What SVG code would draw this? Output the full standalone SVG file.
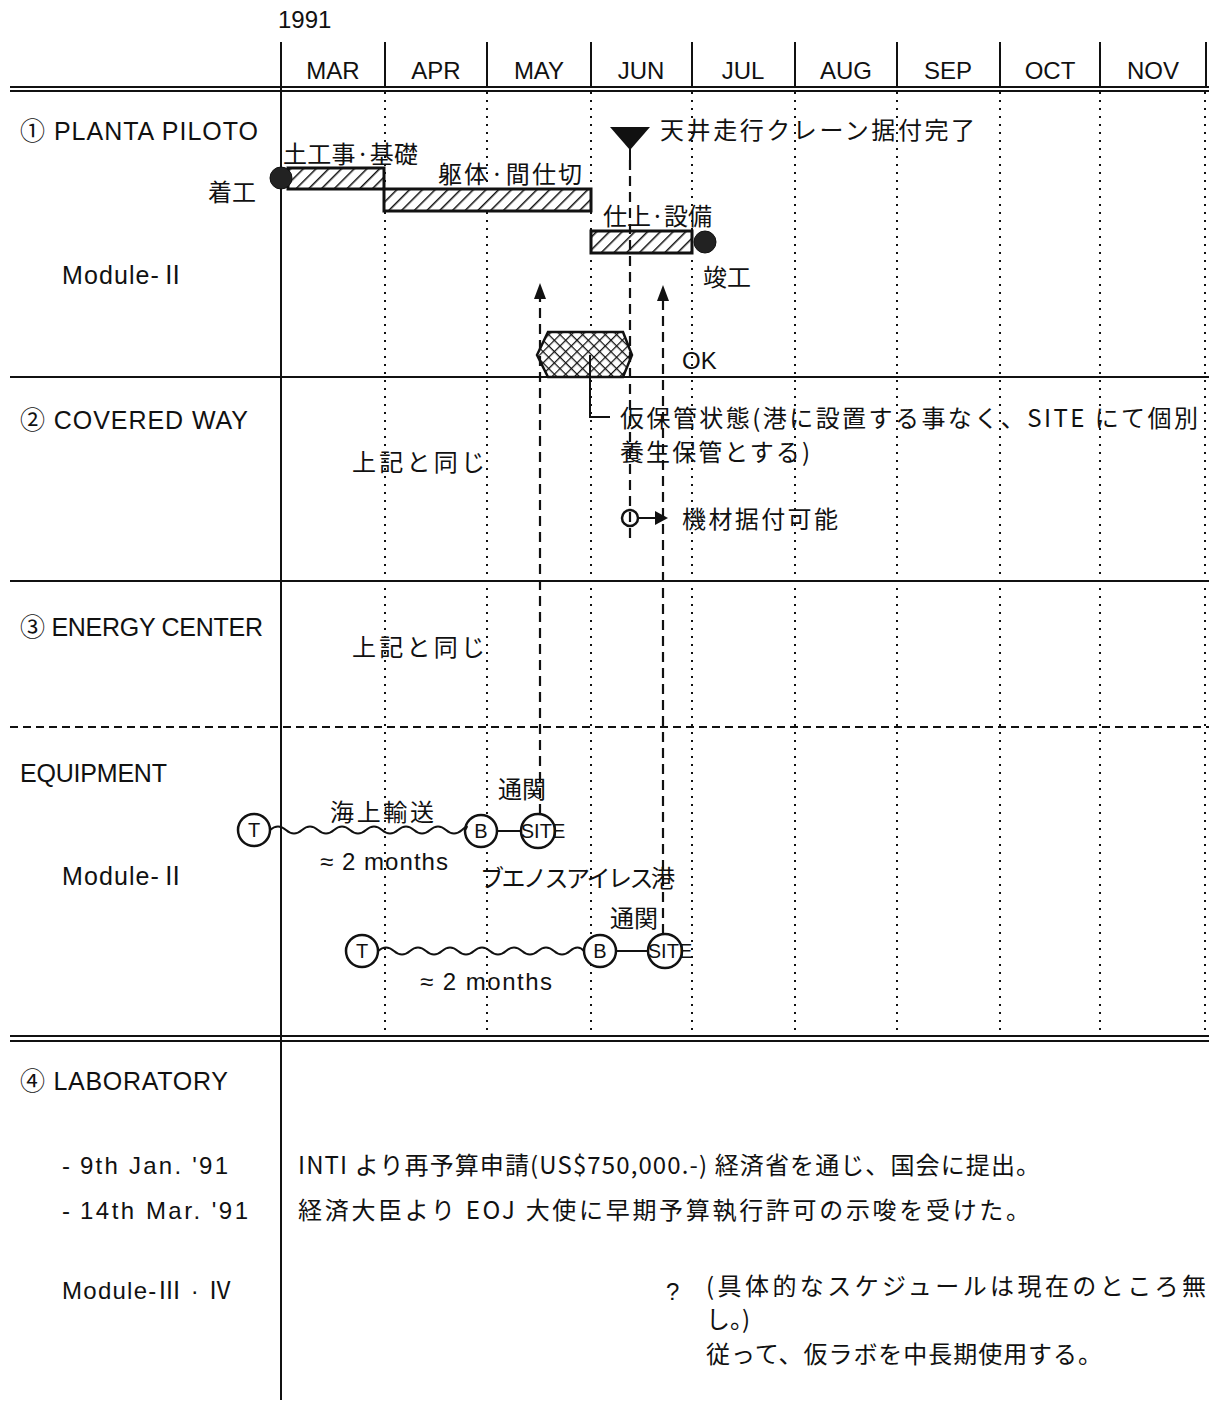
<svg xmlns="http://www.w3.org/2000/svg" width="1209" height="1403" viewBox="0 0 1209 1403">
<defs>
<style>
.t{font-family:"Liberation Sans","Noto Sans CJK JP",sans-serif;font-size:24px;fill:#111}
.l{font-family:"Liberation Sans","Noto Sans CJK JP",sans-serif;font-size:25px;fill:#111}
.j{font-family:"Noto Sans CJK JP","Liberation Sans",sans-serif;font-size:24px;fill:#111}
.s{font-family:"Liberation Sans",sans-serif;font-size:20px;fill:#111}
.m{font-family:"Liberation Sans",sans-serif;font-size:24px;fill:#111;text-anchor:middle}
.grid{stroke:#111;stroke-width:2;stroke-dasharray:2 6;fill:none}
.solid{stroke:#111;stroke-width:2;fill:none}
.dash{stroke:#111;stroke-width:2.2;stroke-dasharray:10 6;fill:none}
.bar{fill:url(#hatch);stroke:#111;stroke-width:3}
.circ{fill:#fff;stroke:#111;stroke-width:2.5}
.dot{fill:#222;stroke:#111;stroke-width:1}
.head{fill:#111}
</style>
<pattern id="hatch" width="9" height="9" patternUnits="userSpaceOnUse" patternTransform="rotate(45)">
<rect width="9" height="9" fill="#fff"/>
<line x1="0" y1="0" x2="0" y2="9" stroke="#111" stroke-width="3"/>
</pattern>
<pattern id="cross" width="8" height="8" patternUnits="userSpaceOnUse" patternTransform="rotate(45)">
<rect width="8" height="8" fill="#fff"/>
<line x1="0" y1="0" x2="0" y2="8" stroke="#111" stroke-width="2.5"/>
<line x1="0" y1="0" x2="8" y2="0" stroke="#111" stroke-width="2.5"/>
</pattern>
</defs>

<g id="header">
<text class="t" x="278" y="28" font-size="21">1991</text>
<line class="solid" x1="281" y1="42" x2="281" y2="1400"/>
<g class="solid">
<line x1="385" y1="42" x2="385" y2="86"/>
<line x1="487" y1="42" x2="487" y2="86"/>
<line x1="591" y1="42" x2="591" y2="86"/>
<line x1="692" y1="42" x2="692" y2="86"/>
<line x1="795" y1="42" x2="795" y2="86"/>
<line x1="897" y1="42" x2="897" y2="86"/>
<line x1="1000" y1="42" x2="1000" y2="86"/>
<line x1="1100" y1="42" x2="1100" y2="86"/>
<line x1="1206" y1="42" x2="1206" y2="86"/>
</g>
<text class="m" x="333" y="79">MAR</text>
<text class="m" x="436" y="79">APR</text>
<text class="m" x="539" y="79">MAY</text>
<text class="m" x="641" y="79">JUN</text>
<text class="m" x="743" y="79">JUL</text>
<text class="m" x="846" y="79">AUG</text>
<text class="m" x="948" y="79">SEP</text>
<text class="m" x="1050" y="79">OCT</text>
<text class="m" x="1153" y="79">NOV</text>
</g>

<g id="gridlines">
<line class="solid" x1="10" y1="87" x2="1209" y2="87" stroke-width="1.5"/>
<line class="solid" x1="10" y1="91" x2="1209" y2="91" stroke-width="1.5"/>
<g class="grid">
<line x1="385" y1="92" x2="385" y2="1036"/>
<line x1="487" y1="92" x2="487" y2="1036"/>
<line x1="591" y1="92" x2="591" y2="1036"/>
<line x1="692" y1="92" x2="692" y2="1036"/>
<line x1="795" y1="92" x2="795" y2="1036"/>
<line x1="897" y1="92" x2="897" y2="1036"/>
<line x1="1000" y1="92" x2="1000" y2="1036"/>
<line x1="1100" y1="92" x2="1100" y2="1036"/>
<line x1="1205" y1="92" x2="1205" y2="1036"/>
</g>
<line class="solid" x1="10" y1="377" x2="1209" y2="377"/>
<line class="solid" x1="10" y1="581" x2="1209" y2="581"/>
<line x1="10" y1="727" x2="1209" y2="727" stroke="#111" stroke-width="2" stroke-dasharray="8 5"/>
<line class="solid" x1="10" y1="1036" x2="1209" y2="1036" stroke-width="1.5"/>
<line class="solid" x1="10" y1="1041" x2="1209" y2="1041" stroke-width="1.5"/>
</g>

<g id="labels">
<text class="l" x="20" y="140" textLength="238" lengthAdjust="spacing">① PLANTA PILOTO</text>
<text class="l" x="62" y="284" textLength="123" lengthAdjust="spacing">Module-Ⅱ</text>
<text class="l" x="20" y="429" textLength="228" lengthAdjust="spacing">② COVERED WAY</text>
<text class="l" x="20" y="636" textLength="243" lengthAdjust="spacing">③ ENERGY CENTER</text>
<text class="l" x="20" y="782" textLength="147" lengthAdjust="spacing">EQUIPMENT</text>
<text class="l" x="62" y="885" textLength="123" lengthAdjust="spacing">Module-Ⅱ</text>
<text class="l" x="20" y="1090" textLength="208" lengthAdjust="spacing">④ LABORATORY</text>
<text class="t" x="62" y="1174">-</text>
<text class="t" x="80" y="1174" textLength="148" lengthAdjust="spacing">9th Jan. '91</text>
<text class="t" x="62" y="1219">-</text>
<text class="t" x="80" y="1219" textLength="168" lengthAdjust="spacing">14th Mar. '91</text>
<text class="t" x="62" y="1299" textLength="170" lengthAdjust="spacing">Module-Ⅲ · Ⅳ</text>
</g>

<g id="planta-piloto">
<rect class="bar" x="288" y="168" width="96" height="21"/>
<rect class="bar" x="384" y="189" width="207" height="22"/>
<rect class="bar" x="591" y="231" width="101" height="22"/>
<circle class="dot" cx="281" cy="178" r="11"/>
<circle class="dot" cx="705" cy="242" r="11"/>
<text class="j" x="283" y="163" textLength="135" lengthAdjust="spacing">土工事·基礎</text>
<text class="j" x="208" y="201">着工</text>
<text class="j" x="438" y="183" textLength="144" lengthAdjust="spacing">躯体·間仕切</text>
<text class="j" x="603" y="225" textLength="109" lengthAdjust="spacing">仕上·設備</text>
<text class="j" x="703" y="286">竣工</text>
<path d="M610,127 L650,127 L630,150 Z" fill="#111"/>
<line class="solid" x1="630" y1="145" x2="630" y2="160"/>
<text class="j" x="660" y="139" textLength="315" lengthAdjust="spacing">天井走行クレーン据付完了</text>
</g>

<g id="storage">
<path d="M537,355 L548,332 L623,332 L632,355 L623,377 L548,377 Z" fill="url(#cross)" stroke="#111" stroke-width="2.5"/>
<text class="t" x="682" y="369">OK</text>
<text class="j" x="620" y="427" textLength="578" lengthAdjust="spacing">仮保管状態(港に設置する事なく、SITE にて個別</text>
<text class="j" x="620" y="461" textLength="190" lengthAdjust="spacing">養生保管とする)</text>
<text class="j" x="352" y="471" textLength="133" lengthAdjust="spacing">上記と同じ</text>
<text class="j" x="352" y="656" textLength="133" lengthAdjust="spacing">上記と同じ</text>
</g>

<g id="install">
<circle cx="630" cy="518" r="8" fill="none" stroke="#111" stroke-width="2.5"/>
<text class="j" x="682" y="528" textLength="156" lengthAdjust="spacing">機材据付可能</text>
</g>

<g id="equipment">
<circle class="circ" cx="254" cy="830" r="16"/>
<text class="s" x="254" y="837" text-anchor="middle">T</text>
<circle class="circ" cx="481" cy="831" r="16"/>
<text class="s" x="481" y="838" text-anchor="middle">B</text>
<circle class="circ" cx="538" cy="831" r="17"/>
<text class="s" x="543" y="838" text-anchor="middle">SITE</text>
<text class="j" x="330" y="821" textLength="104" lengthAdjust="spacing">海上輸送</text>
<text class="t" x="320" y="870" textLength="128" lengthAdjust="spacing">≈ 2 months</text>
<text class="j" x="498" y="798">通関</text>
<text class="j" x="480" y="887" textLength="195" lengthAdjust="spacing">ブエノスアイレス港</text>

<circle class="circ" cx="362" cy="951" r="16"/>
<text class="s" x="362" y="958" text-anchor="middle">T</text>
<circle class="circ" cx="600" cy="951" r="16"/>
<text class="s" x="600" y="958" text-anchor="middle">B</text>
<circle class="circ" cx="665" cy="951" r="17"/>
<text class="s" x="670" y="958" text-anchor="middle">SITE</text>
<text class="j" x="610" y="927">通関</text>
<text class="t" x="420" y="990" textLength="132" lengthAdjust="spacing">≈ 2 months</text>
</g>

<g id="lab-notes">
<text class="j" x="298" y="1174" textLength="742" lengthAdjust="spacing">INTI より再予算申請(US$750,000.-) 経済省を通じ、国会に提出。</text>
<text class="j" x="298" y="1219" textLength="732" lengthAdjust="spacing">経済大臣より EOJ 大使に早期予算執行許可の示唆を受けた。</text>
<text class="t" x="666" y="1300">?</text>
<text class="j" x="706" y="1295" font-size="22" textLength="500" lengthAdjust="spacing">(具体的なスケジュールは現在のところ無</text>
<text class="j" x="706" y="1328" font-size="22">し。)</text>
<text class="j" x="706" y="1363" textLength="396" lengthAdjust="spacing">従って、仮ラボを中長期使用する。</text>
</g>

<g id="connectors">
<path class="solid" d="M270,830 q8,-7 16,0 t16,0 t16,0 t16,0 t16,0 t16,0 t16,0 t16,0 t16,0 t16,0 t16,0 t16,0 t3,0"/>
<line class="solid" x1="497" y1="831" x2="521" y2="831"/>
<path class="solid" d="M378,951 q8,-7 16,0 t16,0 t16,0 t16,0 t16,0 t16,0 t16,0 t16,0 t16,0 t16,0 t16,0 t16,0 t14,0"/>
<line class="solid" x1="616" y1="951" x2="648" y2="951"/>
<line class="dash" x1="540" y1="814" x2="540" y2="296"/>
<path class="head" d="M540,283 L546,299 L534,299 Z"/>
<line class="dash" x1="663" y1="934" x2="663" y2="298"/>
<path class="head" d="M663,285 L669,301 L657,301 Z"/>
<line class="dash" x1="630" y1="160" x2="630" y2="542"/>
<path class="solid" d="M590,355 L590,417 L610,417"/>
<line class="solid" x1="638" y1="518" x2="656" y2="518"/>
<path class="head" d="M655,511 L668,518 L655,525 Z"/>
</g>
</svg>
